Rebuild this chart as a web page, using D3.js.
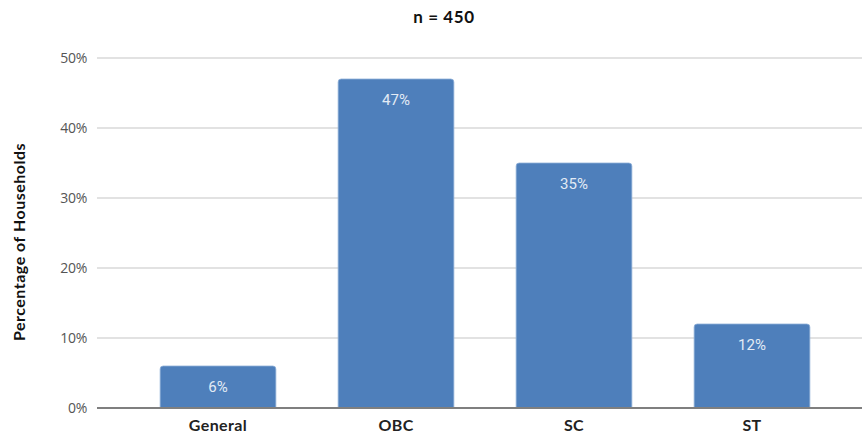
<!DOCTYPE html>
<html>
<head>
<meta charset="utf-8">
<script src="https://cdn.jsdelivr.net/npm/d3@7"></script>
<style>
  html, body { margin: 0; padding: 0; background: #fff; }
  svg { display: block; }
</style>
</head>
<body>
<svg id="chart" width="862" height="437"></svg>
<script>
// Household share by social category
const categories = ["General", "OBC", "SC", "ST"];
const shares = [6, 47, 35, 12];
const yTicks = [0, 10, 20, 30, 40, 50];
const title = "n = 450";
const yTitle = "Percentage of Households";

const svg = d3.select("#chart");
const plot = { left: 97, right: 862, top: 58, bottom: 408 };

const x = d3.scaleBand()
  .domain(categories)
  .range([129, 841])
  .paddingInner(0.35)
  .paddingOuter(0.175);

const y = d3.scaleLinear()
  .domain([0, 50])
  .range([plot.bottom, plot.top]);

// gridlines
svg.append("g")
  .selectAll("line")
  .data(yTicks.filter(d => d > 0))
  .join("line")
  .attr("x1", plot.left)
  .attr("x2", plot.right)
  .attr("y1", d => y(d))
  .attr("y2", d => y(d))
  .attr("stroke", "#d9d9d9")
  .attr("stroke-width", 1.3);

// y tick labels
const yAxis = d3.axisLeft(y).tickValues(yTicks).tickFormat(d => d + "%").tickSize(0).tickPadding(0);
const gy = svg.append("g").attr("transform", `translate(${plot.left - 10},0)`).call(yAxis);
gy.select(".domain").remove();
gy.selectAll("text")
  .attr("font-family", "'Open Sans', sans-serif")
  .attr("font-size", 14)
  .attr("letter-spacing", -0.3)
  .attr("fill", "#555")
  .attr("dy", "0.35em");

// bars with rounded top corners
const r = 3;
function barPath(x0, y0, w, h) {
  return `M${x0},${y0 + h}V${y0 + r}Q${x0},${y0} ${x0 + r},${y0}H${x0 + w - r}Q${x0 + w},${y0} ${x0 + w},${y0 + r}V${y0 + h}Z`;
}
const rows = categories.map((c, i) => ({ c, v: shares[i] }));
svg.append("g")
  .selectAll("path")
  .data(rows)
  .join("path")
  .attr("d", d => barPath(x(d.c), y(d.v), x.bandwidth(), y(0) - y(d.v)))
  .attr("fill", "#4e7fbb")
  .attr("stroke", "#8fb0d8")
  .attr("stroke-width", 0.8);

// value labels
svg.append("g")
  .selectAll("text")
  .data(rows)
  .join("text")
  .attr("x", d => x(d.c) + x.bandwidth() / 2)
  .attr("y", d => y(d.v) + 26)
  .attr("text-anchor", "middle")
  .attr("font-family", "Roboto, sans-serif")
  .attr("font-size", 15)
  .attr("fill", "#e3ebf5")
  .text(d => d.v + "%");

// baseline
svg.append("line")
  .attr("x1", plot.left)
  .attr("x2", plot.right)
  .attr("y1", y(0))
  .attr("y2", y(0))
  .attr("stroke", "#7f7f7f")
  .attr("stroke-width", 2);

// x labels
const xAxis = d3.axisBottom(x).tickSize(0).tickPadding(0);
const gx = svg.append("g").attr("transform", `translate(0,${y(0) + 17})`).call(xAxis);
gx.select(".domain").remove();
gx.selectAll("text")
  .attr("font-family", "Lato, sans-serif")
  .attr("font-weight", "bold")
  .attr("font-size", 16)
  .attr("letter-spacing", 0.4)
  .attr("fill", "#222")
  .attr("dy", "0.35em");

// title
svg.append("text")
  .attr("x", 444)
  .attr("y", 23)
  .attr("text-anchor", "middle")
  .attr("font-family", "Lato, sans-serif")
  .attr("font-weight", "bold")
  .attr("font-size", 17)
  .attr("letter-spacing", 0.6)
  .attr("fill", "#111")
  .text(title);

// y title
svg.append("text")
  .attr("transform", `translate(25,242) rotate(-90)`)
  .attr("text-anchor", "middle")
  .attr("font-family", "Lato, sans-serif")
  .attr("font-weight", "bold")
  .attr("font-size", 16)
  .attr("letter-spacing", 0.5)
  .attr("fill", "#111")
  .text(yTitle);
</script>
</body>
</html>
